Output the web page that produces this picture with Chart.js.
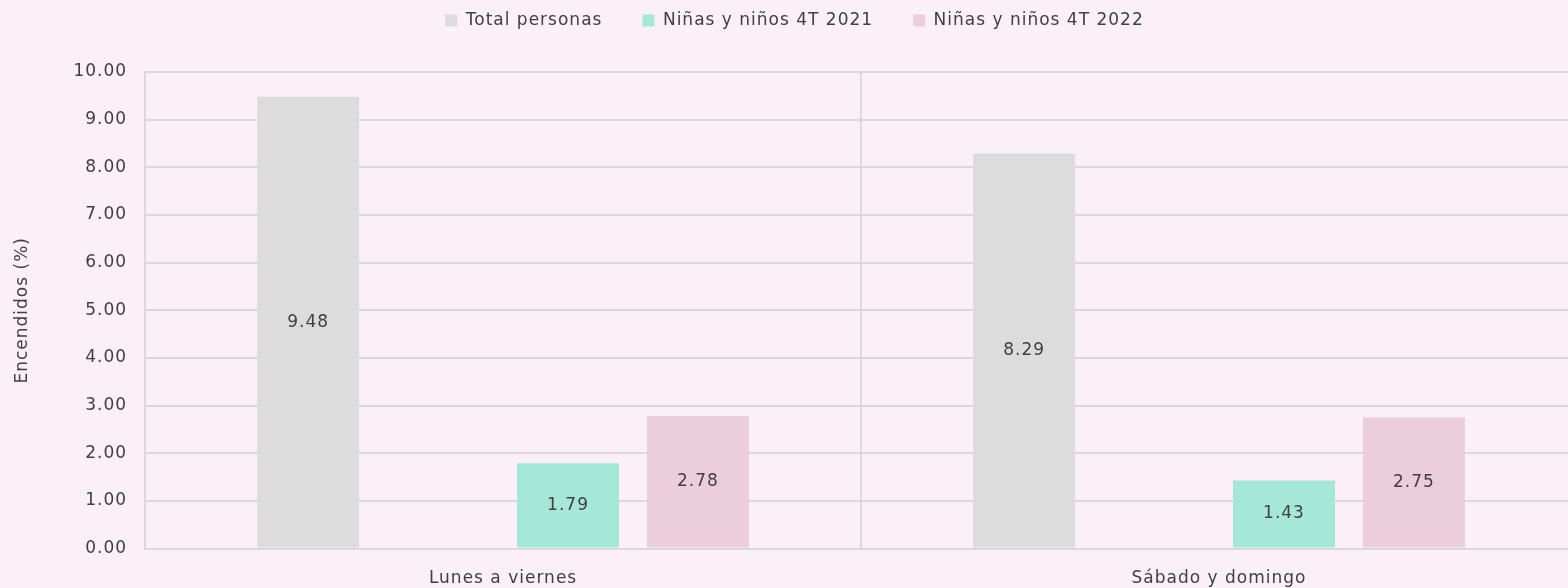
<!DOCTYPE html>
<html lang="es">
<head>
    <meta charset="UTF-8">
    <title>Encendidos (%)</title>
    <style>
        html, body { margin: 0; padding: 0; background: #faf0f6; overflow: hidden; }
        canvas { display: block; }
    </style>
</head>
<body>
    <canvas id="myChart" width="1577" height="588"></canvas>
    <script src="https://cdn.jsdelivr.net/npm/chart.js@4.4.1/dist/chart.umd.min.js"></script>
    <script>
        var labels = ["Lunes a viernes", "Sábado y domingo"]
        var totalPersonas = [9.48, 8.29]
        var ninos2021 = [1.79, 1.43]
        var ninos2022 = [2.78, 2.75]
        var yTicks = [0, 1, 2, 3, 4, 5, 6, 7, 8, 9, 10]

        var textColor = '#404040'
        var font = "'DejaVu Sans', sans-serif"
        var fontSize = 17

        // wider letters, closer to the original typeface
        var spacing = {
            id: 'spacing',
            beforeUpdate(chart) { chart.ctx.letterSpacing = '1px' },
            beforeDraw(chart) { chart.ctx.letterSpacing = '1px' }
        }

        // fixed legend height so the plot starts lower
        var legendHeight = {
            id: 'legendHeight',
            beforeInit(chart) {
                var fit = chart.legend.fit
                chart.legend.fit = function () {
                    fit.call(this)
                    this.height = 100
                }
            }
        }

        // writes the value in the middle of each bar
        var barLabels = {
            id: 'barLabels',
            afterDatasetsDraw(chart) {
                var ctx = chart.ctx
                ctx.save()
                ctx.font = fontSize + 'px ' + font
                ctx.fillStyle = textColor
                ctx.textAlign = 'center'
                ctx.textBaseline = 'middle'
                chart.data.datasets.forEach((ds, i) => {
                    chart.getDatasetMeta(i).data.forEach((bar, j) => {
                        if (ds.data[j] == null) return
                        var p = bar.getProps(['x', 'y', 'base'], true)
                        ctx.fillText(ds.data[j].toFixed(2), p.x, (p.y + p.base) / 2)
                    })
                })
                ctx.restore()
            }
        }

        var myChart = document.getElementById("myChart").getContext('2d')

        var chart = new Chart(myChart, {
            type: 'bar',
            data: {
                labels: labels,
                datasets: [
                    {
                        label: "Total personas",
                        data: totalPersonas,
                        backgroundColor: '#dcdcdc'
                    },
                    {
                        label: "",
                        data: [null, null],
                        backgroundColor: 'rgba(0,0,0,0)'
                    },
                    {
                        label: "Niñas y niños 4T 2021",
                        data: ninos2021,
                        backgroundColor: '#a6e8d7'
                    },
                    {
                        label: "Niñas y niños 4T 2022",
                        data: ninos2022,
                        backgroundColor: '#ecceda'
                    }
                ]
            },
            options: {
                responsive: false,
                animation: false,
                datasets: {
                    bar: { barPercentage: 0.785, categoryPercentage: 0.726 }
                },
                layout: { padding: { top: -28, right: 0, bottom: -21, left: 12 } },
                plugins: {
                    tooltip: { enabled: false },
                    legend: {
                        position: 'top',
                        labels: {
                            filter: item => item.text !== '',
                            boxWidth: 12,
                            boxHeight: 12,
                            padding: 40,
                            color: textColor,
                            font: { family: font, size: fontSize }
                        }
                    }
                },
                scales: {
                    x: {
                        grid: { offset: true, color: '#d9d9d9', lineWidth: 2, drawTicks: false },
                        border: { color: '#d9d9d9', width: 2 },
                        ticks: { color: textColor, padding: 20, font: { family: font, size: fontSize } }
                    },
                    y: {
                        min: 0,
                        max: 10,
                        afterBuildTicks: axis => { axis.ticks = yTicks.map(v => ({ value: v })) },
                        grid: { color: '#d9d9d9', lineWidth: 2, drawTicks: false },
                        border: { color: '#d9d9d9', width: 2 },
                        ticks: {
                            color: textColor,
                            padding: 18,
                            font: { family: font, size: fontSize },
                            callback: v => v.toFixed(2)
                        },
                        title: {
                            display: true,
                            text: 'Encendidos (%)',
                            color: textColor,
                            font: { family: font, size: fontSize },
                            padding: { top: 0, bottom: 23 }
                        }
                    }
                }
            },
            plugins: [spacing, legendHeight, barLabels]
        })
    </script>
</body>
</html>
